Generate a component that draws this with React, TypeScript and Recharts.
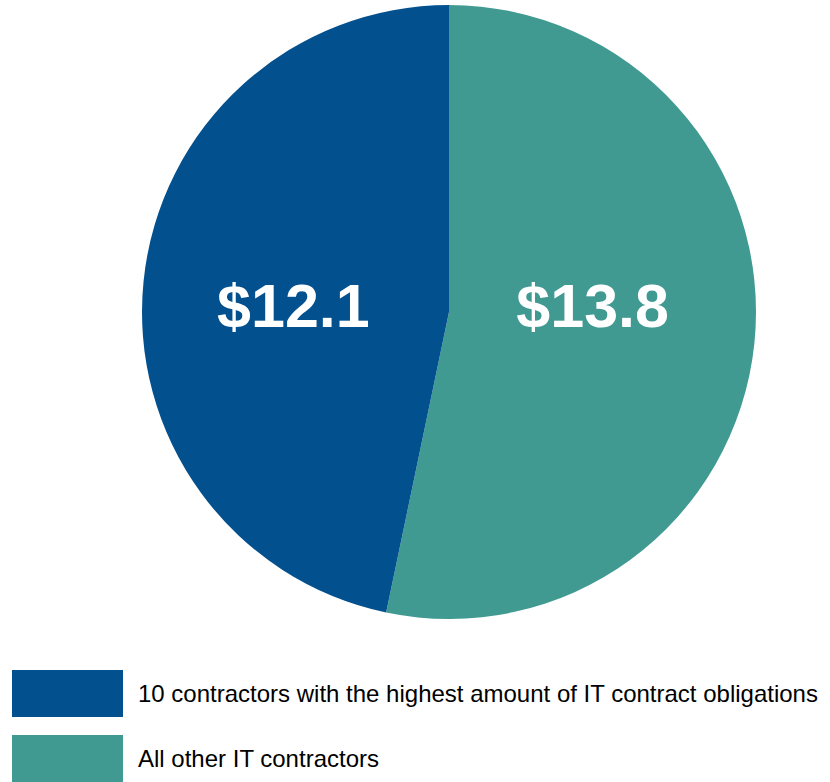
import { PieChart, Pie, Cell, Legend } from "recharts"

const categories = ["All other IT contractors", "10 contractors with the highest amount of IT contract obligations"]
const values = [13.8, 12.1]
const colors = ["#409A92", "#03508E"]
const legendOrder = [1, 0]

const data = categories.map((name, i) => ({ name, value: values[i] }))

const RAD = Math.PI / 180

function renderLabel(props: any) {
  const { cx, cy, midAngle, outerRadius, value } = props
  const x = cx + outerRadius * 0.49 * Math.cos(-midAngle * RAD) - 6
  return (
    <text
      x={x}
      y={cy + 15}
      fill="#fff"
      textAnchor="middle"
      fontFamily="'Liberation Sans', Arial, sans-serif"
      fontWeight="bold"
      fontSize={61}
    >
      ${value.toFixed(1)}
    </text>
  )
}

function LegendBox() {
  return (
    <div>
      {legendOrder.map((i) => (
        <div key={i} style={{ display: "flex", alignItems: "center", height: 47, marginBottom: 18 }}>
          <div style={{ width: 111, height: 47, background: colors[i], flexShrink: 0 }} />
          <span
            style={{
              marginLeft: 15,
              fontFamily: "'Liberation Sans', Arial, sans-serif",
              fontSize: 24,
              color: "#000",
              whiteSpace: "nowrap",
            }}
          >
            {categories[i]}
          </span>
        </div>
      ))}
    </div>
  )
}

export default function App() {
  return (
    <div style={{ position: "absolute", left: 0, top: 0, background: "#fff" }}>
      <PieChart width={830} height={782} margin={{ top: 0, right: 0, bottom: 0, left: 0 }}>
        <Pie
          data={data}
          dataKey="value"
          cx={449}
          cy={312}
          outerRadius={307}
          startAngle={90}
          endAngle={-270}
          stroke="none"
          label={renderLabel}
          labelLine={false}
          isAnimationActive={false}
        >
          {data.map((d, i) => (
            <Cell key={d.name} fill={colors[i]} />
          ))}
        </Pie>
        <Legend
          content={<LegendBox />}
          wrapperStyle={{ position: "absolute", left: 12, top: 670, width: 818, bottom: "auto" }}
        />
      </PieChart>
    </div>
  )
}
